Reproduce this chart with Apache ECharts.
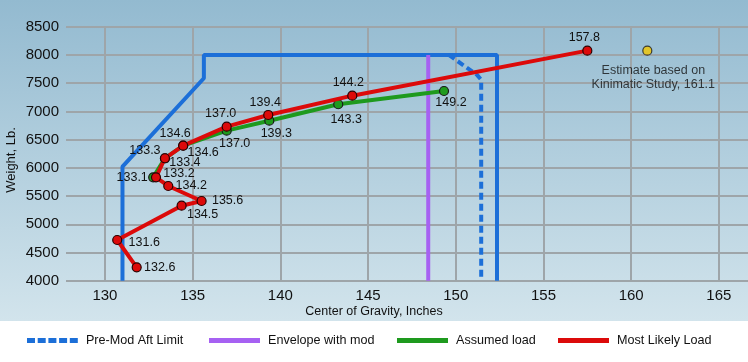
<!DOCTYPE html>
<html><head><meta charset="utf-8">
<script src="https://cdn.jsdelivr.net/npm/echarts@6/dist/echarts.min.js"></script>
<style>html,body{margin:0;padding:0;background:#fff}#c{width:748px;height:362px}</style>
</head><body><div id="c"></div>
<script>
// ---- data ----
const xTicks = [130, 135, 140, 145, 150, 155, 160, 165];
const envelopeX = [131.0, 131.0, 135.64, 135.64, 152.35, 152.35];
const envelopeY = [4000, 6020, 7587, 8000, 8000, 4000];
const preModX = [149.6, 151.2, 151.45, 151.45];
const preModY = [8000, 7650, 7560, 4000];
const modX = [148.43, 148.43];
const modY = [8000, 4000];
const assumedX = [132.75, 133.42, 134.46, 136.94, 139.37, 143.30, 149.33];
const assumedY = [5832, 6169, 6392, 6658, 6835, 7126, 7361];
const assumedLabels = ['133.1', '133.4', '134.6', '137.0', '139.3', '143.3', '149.2'];
const likelyX = [131.81, 130.70, 134.37, 135.51, 133.61, 132.91, 133.42, 134.46, 136.94, 139.31, 144.10, 157.50];
const likelyY = [4237, 4721, 5329, 5412, 5678, 5832, 6169, 6392, 6729, 6936, 7278, 8076];
const likelyLabels = ['132.6', '131.6', '134.5', '135.6', '134.2', '133.2', '133.3', '134.6', '137.0', '139.4', '144.2', '157.8'];
const estimateX = [160.92];
const estimateY = [8076];
const estimateLabels = ['Estimate based on\nKinimatic Study, 161.1'];

// ---- label placement (styling) ----
const assumedOffsets = [[-21, 0], [20, 4], [20, 7], [8, 13], [7, 13], [8, 15], [7, 12]];
const likelyOffsets = [[23, 0], [27, 3], [21, 9], [26, 0], [23, 0], [23, -4], [-20, -8], [-8, -12], [-6, -13], [-3, -12], [-4, -13], [-3, -13]];
const estimateOffsets = [[6, 27]];

const FONT = "'Liberation Sans', Arial, sans-serif";
const BLUE = '#1c6fd8', PURPLE = '#a661f2', GREEN = '#1e9a1e', RED = '#dc0a0a', YELLOW = '#f4c600';

function pairs(xs, ys) { return xs.map((x, i) => [x, ys[i]]); }
function labeled(xs, ys, offs) {
  return xs.map((x, i) => ({ value: [x, ys[i]], label: { offset: offs[i] } }));
}
const ptLabel = (labels) => ({
  show: true, position: 'inside', fontSize: 12.5, fontFamily: FONT, color: '#111',
  textBorderWidth: 0, textBorderColor: 'transparent', lineHeight: 14,
  formatter: p => labels[p.dataIndex]
});

const chart = echarts.init(document.getElementById('c'), null, { renderer: 'canvas' });
const grad = new echarts.graphic.LinearGradient(0, 0, 0, 1, [
  { offset: 0, color: '#93bad0' }, { offset: 1, color: '#d2e4ec' }
]);
const dashIcon = 'path://M0,0h8v5h-8z M10.7,0h8v5h-8z M21.4,0h8v5h-8z M32.1,0h8v5h-8z M42.8,0h8v5h-8z';
const legendBase = {
  top: 334, padding: 0, itemWidth: 51, itemHeight: 5, selectedMode: false,
  textStyle: { fontSize: 12.6, fontFamily: FONT, color: '#111', padding: [0, 0, 0, 3] }
};

chart.setOption({
  animation: false,
  graphic: [
    { type: 'rect', z: -10, shape: { x: 0, y: 0, width: 748, height: 321 }, style: { fill: grad } },
    { type: 'text', x: 374, y: 312, style: { text: 'Center of Gravity, Inches', font: "12.5px 'Liberation Sans', Arial, sans-serif", fill: '#111', align: 'center', verticalAlign: 'middle' } },
    { type: 'text', x: 11, y: 160, rotation: Math.PI / 2, style: { text: 'Weight, Lb.', font: "13px 'Liberation Sans', Arial, sans-serif", fill: '#111', align: 'center', verticalAlign: 'middle' } }
  ],
  legend: [
    Object.assign({}, legendBase, { left: 27, data: [{ name: 'Pre-Mod Aft Limit', icon: dashIcon, itemStyle: { color: BLUE, borderWidth: 0 } }] }),
    Object.assign({}, legendBase, { left: 209, data: [{ name: 'Envelope with mod', icon: 'rect', itemStyle: { color: PURPLE, borderWidth: 0 } }] }),
    Object.assign({}, legendBase, { left: 397, data: [{ name: 'Assumed load', icon: 'rect', itemStyle: { color: GREEN, borderWidth: 0 } }] }),
    Object.assign({}, legendBase, { left: 558, data: [{ name: 'Most Likely Load', icon: 'rect', itemStyle: { color: RED, borderWidth: 0 } }] })
  ],
  grid: { left: 66, right: 0, top: 26.7, bottom: 81.3, containLabel: false },
  xAxis: {
    type: 'value', min: 127.78, max: 166.66,
    axisLine: { show: false }, axisTick: { show: false, customValues: xTicks },
    axisLabel: { customValues: xTicks, fontSize: 15, fontFamily: FONT, color: '#111', margin: 8, formatter: v => String(v) },
    splitLine: { show: true, lineStyle: { color: '#9ea5a9', width: 2 } }
  },
  yAxis: {
    type: 'value', min: 4000, max: 8500, interval: 500,
    axisLine: { show: false }, axisTick: { show: false },
    axisLabel: { fontSize: 15, fontFamily: FONT, color: '#111', margin: 7, formatter: v => String(v) },
    splitLine: { show: true, lineStyle: { color: '#9ea5a9', width: 2 } }
  },
  series: [
    { name: 'Envelope', type: 'line', data: pairs(envelopeX, envelopeY), showSymbol: false, color: BLUE,
      lineStyle: { color: BLUE, width: 4 }, z: 2 },
    { name: 'Pre-Mod Aft Limit', type: 'line', data: pairs(preModX, preModY), showSymbol: false, color: BLUE,
      lineStyle: { color: BLUE, width: 4, type: [7, 4] }, z: 2 },
    { name: 'Envelope with mod', type: 'line', data: pairs(modX, modY), showSymbol: false, color: PURPLE,
      lineStyle: { color: PURPLE, width: 4 }, z: 2 },
    { name: 'Assumed load', type: 'line', data: labeled(assumedX, assumedY, assumedOffsets), color: GREEN,
      symbol: 'circle', symbolSize: 9, showSymbol: true,
      itemStyle: { color: GREEN, borderColor: '#1a1a1a', borderWidth: 1.2 },
      lineStyle: { color: GREEN, width: 4 }, label: ptLabel(assumedLabels), z: 3 },
    { name: 'Most Likely Load', type: 'line', data: labeled(likelyX, likelyY, likelyOffsets), color: RED,
      symbol: 'circle', symbolSize: 9, showSymbol: true,
      itemStyle: { color: RED, borderColor: '#2a0000', borderWidth: 1.2 },
      lineStyle: { color: RED, width: 4 }, label: ptLabel(likelyLabels), z: 4 },
    { name: 'Estimate', type: 'scatter', data: labeled(estimateX, estimateY, estimateOffsets), color: YELLOW,
      symbol: 'circle', symbolSize: 9,
      itemStyle: { color: YELLOW, borderColor: '#1a1a1a', borderWidth: 1.2 },
      label: ptLabel(estimateLabels), z: 5 }
  ]
});
</script></body></html>
